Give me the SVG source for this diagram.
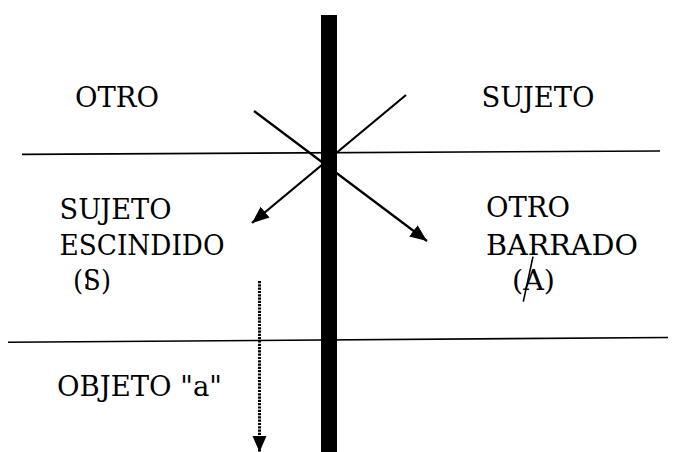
<svg xmlns="http://www.w3.org/2000/svg" width="679" height="452" viewBox="0 0 679 452">
<style>
text{font-family:"DejaVu Serif","Liberation Serif",serif;font-size:28px;fill:#000}
.ln{stroke:#000;stroke-width:1.6;fill:none}
.ar{stroke:#000;stroke-width:2.2;fill:none}
</style>
<defs>
<marker id="ah" markerUnits="userSpaceOnUse" markerWidth="18" markerHeight="15" refX="17" refY="7" orient="auto">
<path d="M0,0 L17,7 L0,14 z" fill="#000"/>
</marker>
<marker id="ah2" markerUnits="userSpaceOnUse" markerWidth="17" markerHeight="15" refX="16" refY="7" orient="auto">
<path d="M0,0 L16,7 L0,14 z" fill="#000"/>
</marker>
</defs>
<rect width="679" height="452" fill="#fff"/>
<g id="connectors">
<line class="ln" x1="22" y1="154.4" x2="660" y2="151"/>
<line class="ln" x1="8" y1="342.2" x2="668" y2="337.5"/>
<line class="ar" x1="254" y1="111" x2="427" y2="241" marker-end="url(#ah)"/>
<line class="ar" x1="406" y1="95" x2="252" y2="223" marker-end="url(#ah)"/>
<line x1="259.5" y1="281" x2="259.5" y2="452" stroke="#000" stroke-width="3" stroke-dasharray="2.2 1.1" marker-end="url(#ah2)"/>
</g>
<g id="bar"><rect x="321" y="15" width="16" height="437" fill="#000"/></g>
<g id="otro"><text x="75" y="107.3" textLength="84" lengthAdjust="spacingAndGlyphs">OTRO</text></g>
<g id="sujeto"><text x="481.5" y="107.3" textLength="113" lengthAdjust="spacingAndGlyphs">SUJETO</text></g>
<g id="sujeto-escindido">
<text x="59.5" y="219.3" textLength="112" lengthAdjust="spacingAndGlyphs">SUJETO</text>
<text x="59.5" y="255" textLength="165" lengthAdjust="spacingAndGlyphs">ESCINDIDO</text>
<text x="73" y="290" textLength="38" lengthAdjust="spacingAndGlyphs">(S)</text>
<line x1="87.8" y1="270.5" x2="87.8" y2="289" stroke="#000" stroke-width="1.4"/>
</g>
<g id="otro-barrado">
<text x="486" y="216.7" textLength="84" lengthAdjust="spacingAndGlyphs">OTRO</text>
<text x="486" y="255" textLength="152" lengthAdjust="spacingAndGlyphs">BARRADO</text>
<text x="512" y="290" textLength="43" lengthAdjust="spacingAndGlyphs">(A)</text>
<line x1="533" y1="256.7" x2="523.3" y2="301.7" stroke="#000" stroke-width="1.6"/>
</g>
<g id="objeto"><text x="57" y="396" textLength="165" lengthAdjust="spacingAndGlyphs">OBJETO "a"</text></g>
</svg>
